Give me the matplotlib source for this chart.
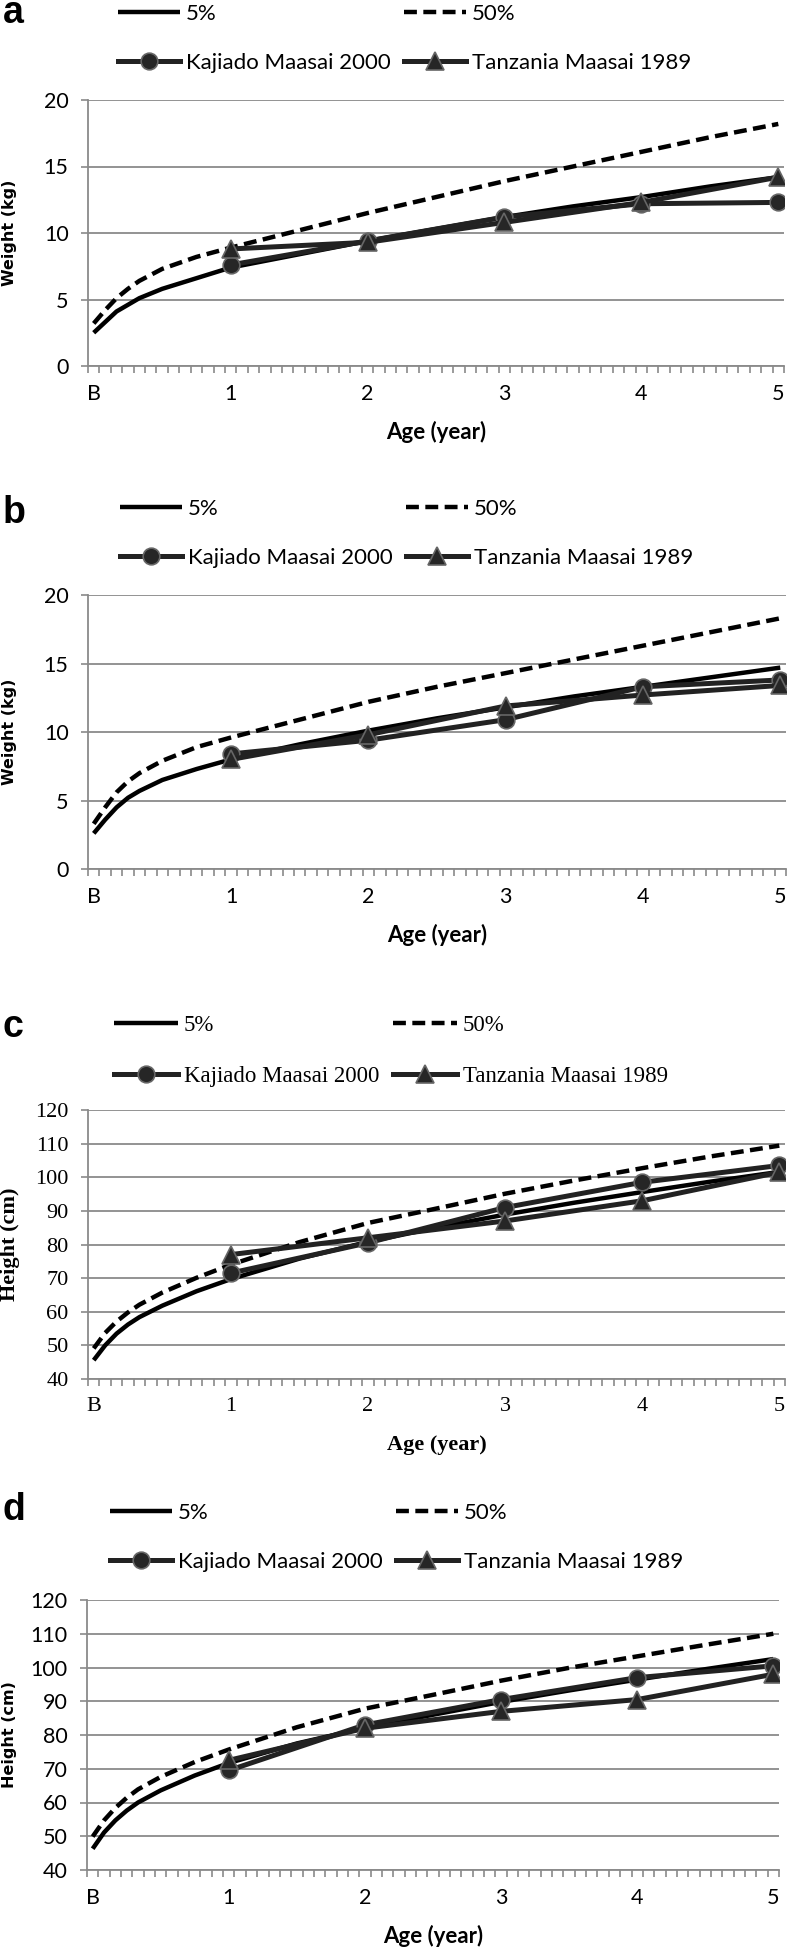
import numpy as np
import matplotlib
matplotlib.use('Agg')
import matplotlib.pyplot as plt

# ---------------- data ----------------
months = [0, 1, 2, 3, 4, 6, 9, 12, 18, 24, 30, 36, 42, 48, 54, 60]
year_months = [12, 24, 36, 48, 60]
tick_labels = ['B', '1', '2', '3', '4', '5']
legend_labels = ['5%', '50%', 'Kajiado Maasai 2000', 'Tanzania Maasai 1989']

# panel a : weight (girls)
a_p5 = [2.5, 3.3, 4.1, 4.6, 5.1, 5.8, 6.6, 7.4, 8.4, 9.4, 10.3, 11.2, 12.0, 12.7, 13.5, 14.2]
a_p50 = [3.2, 4.2, 5.1, 5.8, 6.4, 7.3, 8.2, 8.9, 10.2, 11.5, 12.7, 13.9, 15.0, 16.1, 17.2, 18.2]
a_kaj = [7.6, 9.4, 11.2, 12.2, 12.3]
a_tan = [8.8, 9.3, 10.8, 12.3, 14.2]

# panel b : weight (boys)
b_p5 = [2.6, 3.6, 4.5, 5.2, 5.7, 6.5, 7.3, 8.0, 9.1, 10.1, 11.0, 11.8, 12.6, 13.3, 14.0, 14.7]
b_p50 = [3.3, 4.5, 5.6, 6.4, 7.0, 7.9, 8.9, 9.6, 10.9, 12.2, 13.3, 14.3, 15.3, 16.3, 17.3, 18.3]
b_kaj = [8.4, 9.4, 10.9, 13.3, 13.8]
b_tan = [8.0, 9.8, 11.9, 12.7, 13.4]

# panel c : height (girls)
c_p5 = [45.6, 50.0, 53.5, 56.2, 58.4, 61.8, 66.1, 69.7, 75.8, 80.8, 85.0, 88.9, 92.4, 95.6, 98.7, 101.6]
c_p50 = [49.1, 53.7, 57.1, 59.8, 62.1, 65.7, 70.1, 74.0, 80.7, 86.4, 90.7, 95.1, 99.0, 102.7, 106.2, 109.4]
c_kaj = [71.5, 80.5, 91.0, 98.5, 103.5]
c_tan = [77.0, 82.0, 87.0, 93.0, 101.5]

# panel d : height (boys)
d_p5 = [46.3, 51.1, 54.7, 57.6, 60.0, 63.6, 68.0, 71.7, 77.5, 82.1, 86.0, 89.8, 93.2, 96.4, 99.5, 102.5]
d_p50 = [49.9, 54.7, 58.4, 61.4, 63.9, 67.6, 72.0, 75.7, 82.3, 87.8, 91.9, 96.1, 99.9, 103.3, 106.7, 110.0]
d_kaj = [69.5, 83.0, 90.5, 97.0, 100.5]
d_tan = [72.5, 82.0, 87.0, 90.5, 98.0]

panel_letters = ['a', 'b', 'c', 'd']
y_labels = ['Weight (kg)', 'Weight (kg)', 'Height (cm)', 'Height (cm)']
x_label = 'Age (year)'

# ---------------- layout ----------------
W, H = 788, 1950
fig = plt.figure(figsize=(W / 100, H / 100), dpi=100)

# (left, top, right, bottom) in pixels
rects = [(88, 100, 784, 366), (88, 595, 786, 869), (88, 1110, 785, 1379), (87, 1600, 779, 1870)]
legend_xy = [(118, 4), (120, 499), (114, 1015), (110, 1503)]
letter_xy = [(3, 23), (3, 523), (3, 1037), (3, 1520)]
ylims = [(0, 20), (0, 20), (40, 120), (40, 120)]
yticks = [np.arange(0, 21, 5), np.arange(0, 21, 5), np.arange(40, 121, 10), np.arange(40, 121, 10)]
families = ['Lato', 'Lato', 'Liberation Serif', 'Lato']
ylabel_family = ['DejaVu Sans', 'DejaVu Sans', 'Liberation Serif', 'DejaVu Sans']
ylabel_size = [11.5, 11.5, 16, 11.5]
legend_size = [16, 16, 16.5, 16]

data = [(a_p5, a_p50, a_kaj, a_tan), (b_p5, b_p50, b_kaj, b_tan),
        (c_p5, c_p50, c_kaj, c_tan), (d_p5, d_p50, d_kaj, d_tan)]

grid_col = '#8a8a8a'
line_col = '#000000'
data_col = '#222222'

for i in range(4):
    l, t, r, b = rects[i]
    ax = fig.add_axes([l / W, 1 - b / H, (r - l) / W, (b - t) / H])
    p5, p50, kaj, tan = data[i]
    fam = families[i]

    h5, = ax.plot(months, p5, color=line_col, lw=3.2, solid_capstyle='butt', zorder=3)
    h50, = ax.plot(months, p50, color=line_col, lw=3.2, ls=(0, (2.9, 1.45)), zorder=3)
    hk, = ax.plot(year_months, kaj, color=data_col, lw=3.6, marker='o', markersize=12,
                  markerfacecolor='#262626', markeredgecolor='#666666', markeredgewidth=1.2, zorder=4)
    ht, = ax.plot(year_months, tan, color=data_col, lw=3.6, marker='^', markersize=12.5,
                  markerfacecolor='#262626', markeredgecolor='#666666', markeredgewidth=1.2, zorder=4)

    ax.set_xlim(-0.5, 60.5)
    ax.set_ylim(*ylims[i])
    ax.set_yticks(yticks[i])
    ax.set_xticks([0] + year_months)
    ax.set_xticklabels(tick_labels)
    ax.set_xticks(np.arange(-0.5, 61, 1.0), minor=True)

    ax.yaxis.grid(True, color=grid_col, lw=1.3)
    ax.set_axisbelow(True)
    for s in ['top', 'right']:
        ax.spines[s].set_visible(False)
    for s in ['left', 'bottom']:
        ax.spines[s].set_color(grid_col)
        ax.spines[s].set_linewidth(1.3)

    ax.tick_params(axis='x', which='major', length=0, pad=13)
    ax.tick_params(axis='x', which='minor', length=5, width=1.2, color=grid_col, direction='out')
    ax.tick_params(axis='y', which='major', length=5, width=1.2, color=grid_col, direction='out', pad=9)
    for lab in ax.get_xticklabels() + ax.get_yticklabels():
        lab.set_fontfamily(fam)
        lab.set_fontsize(15.5 if fam != 'Liberation Serif' else 16)

    ax.set_xlabel(x_label, fontfamily=fam, fontweight='bold', fontsize=16, va='center')
    ax.xaxis.set_label_coords(0.5, -66 / (b - t))
    ax.set_ylabel(y_labels[i], fontfamily=ylabel_family[i], fontweight='bold',
                  fontsize=ylabel_size[i], va='center')
    ax.yaxis.set_label_coords(-(l - 10) / (r - l), 0.5)

    lx, ly = legend_xy[i]
    ax.legend([h5, hk, h50, ht],
              [legend_labels[0], legend_labels[2], legend_labels[1], legend_labels[3]],
              ncol=2, loc='upper left', bbox_to_anchor=(lx / W, 1 - ly / H),
              bbox_transform=fig.transFigure, frameon=False, borderpad=0,
              borderaxespad=0, handlelength=2.8, handletextpad=0.25,
              columnspacing=0.6, labelspacing=1.3, numpoints=1,
              prop={'family': fam, 'size': legend_size[i]})

    lx2, ly2 = letter_xy[i]
    fig.text(lx2 / W, 1 - ly2 / H, panel_letters[i], fontfamily='Liberation Sans',
             fontweight='bold', fontsize=27, ha='left', va='baseline')

fig.savefig('out.png', dpi=100)
